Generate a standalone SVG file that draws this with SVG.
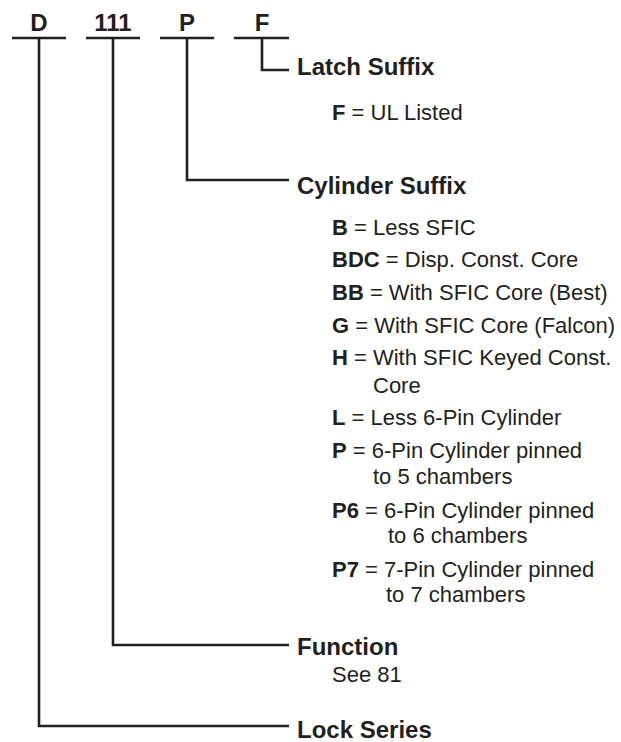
<svg xmlns="http://www.w3.org/2000/svg" width="621" height="742" viewBox="0 0 621 742">
<style>
.ln{fill:none;stroke:#231f20;stroke-width:2.6;stroke-linecap:butt;stroke-linejoin:miter}
.code{font-family:"Liberation Sans",Arial,sans-serif;font-weight:bold;font-size:24px;fill:#231f20;text-anchor:middle}
.hd{font-family:"Liberation Sans",Arial,sans-serif;font-weight:bold;font-size:24px;fill:#231f20}
.bd{font-family:"Liberation Sans",Arial,sans-serif;font-size:22px;fill:#231f20}
.b{font-weight:bold}
</style>
<rect width="621" height="742" fill="#ffffff"/>
<g id="code">
<text class="code" x="39" y="31">D</text>
<text class="code" x="113" y="31">111</text>
<text class="code" x="187" y="31">P</text>
<text class="code" x="262" y="31">F</text>
</g>
<g id="connectors">
<line class="ln" x1="12" y1="38" x2="66" y2="38"/>
<line class="ln" x1="86" y1="38" x2="140" y2="38"/>
<line class="ln" x1="160" y1="38" x2="214" y2="38"/>
<line class="ln" x1="234" y1="38" x2="289" y2="38"/>
<polyline class="ln" points="262,38 262,70 289,70"/>
<polyline class="ln" points="187,38 187,180 289,180"/>
<polyline class="ln" points="113,38 113,645 289,645"/>
<polyline class="ln" points="39,38 39,726 289,726"/>
</g>
<g id="latch-suffix">
<text class="hd" x="297" y="75">Latch Suffix</text>
<text class="bd" x="332" y="120"><tspan class="b">F</tspan> = UL Listed</text>
</g>
<g id="cylinder-suffix">
<text class="hd" x="297" y="194">Cylinder Suffix</text>
<text class="bd" x="332" y="235"><tspan class="b">B</tspan> = Less SFIC</text>
<text class="bd" x="332" y="267"><tspan class="b">BDC</tspan> = Disp. Const. Core</text>
<text class="bd" x="332" y="300"><tspan class="b">BB</tspan> = With SFIC Core (Best)</text>
<text class="bd" x="332" y="333"><tspan class="b">G</tspan> = With SFIC Core (Falcon)</text>
<text class="bd" x="332" y="365"><tspan class="b">H</tspan> = With SFIC Keyed Const.</text>
<text class="bd" x="373" y="393">Core</text>
<text class="bd" x="332" y="425"><tspan class="b">L</tspan> = Less 6-Pin Cylinder</text>
<text class="bd" x="332" y="458"><tspan class="b">P</tspan> = 6-Pin Cylinder pinned</text>
<text class="bd" x="373" y="484">to 5 chambers</text>
<text class="bd" x="332" y="518"><tspan class="b">P6</tspan> = 6-Pin Cylinder pinned</text>
<text class="bd" x="388" y="543">to 6 chambers</text>
<text class="bd" x="332" y="577"><tspan class="b">P7</tspan> = 7-Pin Cylinder pinned</text>
<text class="bd" x="386" y="602">to 7 chambers</text>
</g>
<g id="function">
<text class="hd" x="297" y="655">Function</text>
<text class="bd" x="332" y="682">See 81</text>
</g>
<g id="lock-series">
<text class="hd" x="297" y="738">Lock Series</text>
</g>
</svg>
